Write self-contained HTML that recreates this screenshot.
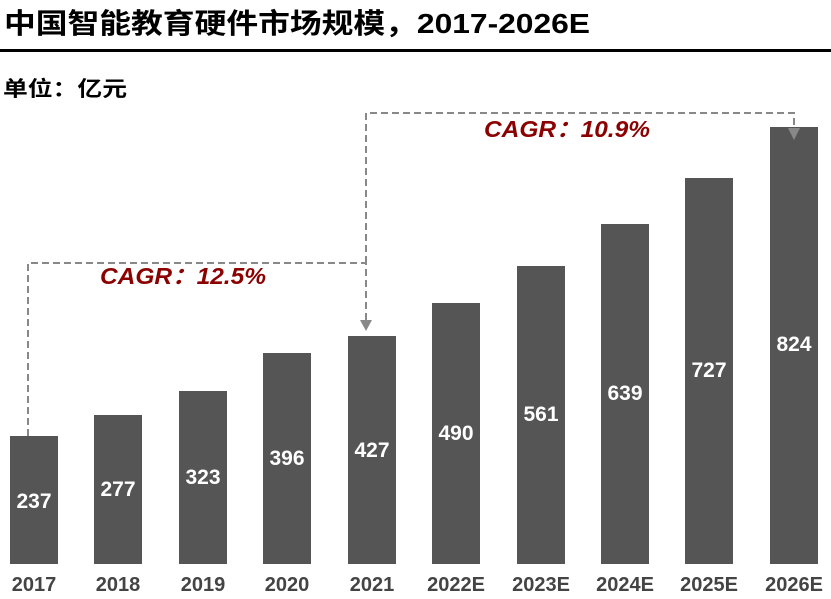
<!DOCTYPE html>
<html><head><meta charset="utf-8"><style>
body{margin:0;width:831px;height:594px;background:#fff;overflow:hidden;font-family:"Liberation Sans","Noto Sans CJK SC",sans-serif}
</style></head><body>
<svg width="831" height="594" xmlns="http://www.w3.org/2000/svg" font-family="Liberation Sans, Noto Sans CJK SC, sans-serif">
<text x="4" y="33" font-size="28" font-weight="bold" fill="#000" textLength="586" lengthAdjust="spacingAndGlyphs">中国智能教育硬件市场规模，2017-2026E</text>
<rect x="0" y="49" width="831" height="3" fill="#000"/>
<text x="3" y="96" font-size="21" font-weight="bold" fill="#000" textLength="124" lengthAdjust="spacingAndGlyphs">单位：亿元</text>
<g fill="#555">
<rect x="10" y="436" width="48" height="128"/>
<rect x="94" y="415" width="48" height="149"/>
<rect x="179" y="391" width="48" height="173"/>
<rect x="263" y="353" width="48" height="211"/>
<rect x="348" y="336" width="48" height="228"/>
<rect x="432" y="303" width="48" height="261"/>
<rect x="517" y="266" width="48" height="298"/>
<rect x="601" y="224" width="48" height="340"/>
<rect x="685" y="178" width="48" height="386"/>
<rect x="770" y="127" width="48" height="437"/>
</g>
<g fill="#fff" font-size="21" font-weight="bold" text-anchor="middle">
<text x="34" y="508">237</text><text x="118" y="496">277</text><text x="203" y="484">323</text>
<text x="287" y="465">396</text><text x="372" y="457">427</text><text x="456" y="440">490</text>
<text x="541" y="421">561</text><text x="625" y="400">639</text><text x="709" y="377">727</text>
<text x="794" y="351">824</text>
</g>
<g fill="#444" font-size="20" font-weight="bold" text-anchor="middle">
<text x="34" y="591">2017</text><text x="118" y="591">2018</text><text x="203" y="591">2019</text>
<text x="287" y="591">2020</text><text x="372" y="591">2021</text><text x="456" y="591">2022E</text>
<text x="541" y="591">2023E</text><text x="625" y="591">2024E</text><text x="709" y="591">2025E</text>
<text x="794" y="591">2026E</text>
</g>
<g fill="none" stroke="#888" stroke-width="2" stroke-dasharray="7,4">
<polyline points="28,436 28,263 366,263 366,322"/>
<polyline points="366,263 366,113 794,113 794,128"/>
</g>
<polygon points="360,320 372,320 366,331" fill="#888"/>
<polygon points="788,128 800,128 794,140" fill="#888"/>
<g fill="#8b0000" font-size="23" font-weight="bold" font-style="italic">
<text x="100" y="284" textLength="166" lengthAdjust="spacingAndGlyphs">CAGR：12.5%</text>
<text x="484" y="137" textLength="166" lengthAdjust="spacingAndGlyphs">CAGR：10.9%</text>
</g>
</svg>
</body></html>
